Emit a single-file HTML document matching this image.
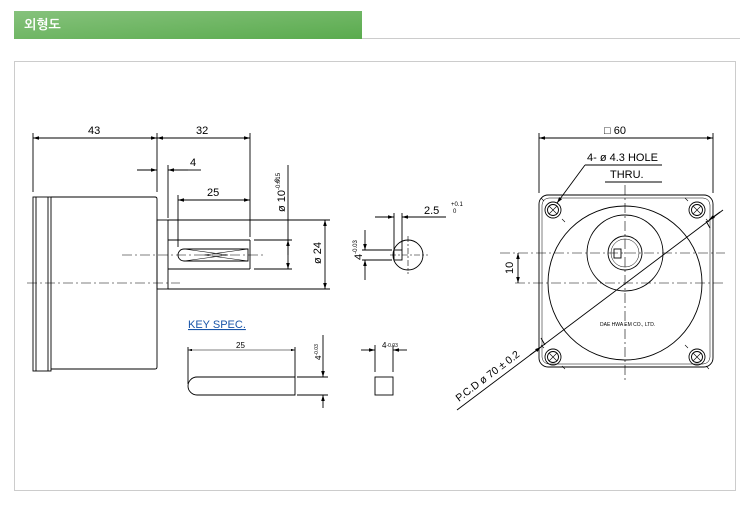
<!DOCTYPE html>
<html><head><meta charset="utf-8"><style>
body{margin:0;background:#fff;width:740px;height:506px;overflow:hidden;font-family:"Liberation Sans","NanumGothic",sans-serif}
</style></head><body>
<svg width="740" height="506" viewBox="0 0 740 506" xmlns="http://www.w3.org/2000/svg" font-family="Liberation Sans, NanumGothic, sans-serif">
<defs>
<linearGradient id="g" x1="0" y1="0" x2="1" y2="1"><stop offset="0" stop-color="#86c27c"/><stop offset="1" stop-color="#5aab4e"/></linearGradient>
<marker id="a" viewBox="0 0 10 6" refX="10" refY="3" markerWidth="8" markerHeight="4" orient="auto-start-reverse"><path d="M0,0L10,3L0,6z" fill="#000"/></marker>
<g id="h" stroke="#000" fill="none" stroke-width="0.9"><circle r="8"/><circle r="5.5"/><path d="M-4,-4L4,4M4,-4L-4,4M-12,-12L-9,-9M12,12L9,9" stroke-width="0.6"/></g>
</defs>
<rect x="14" y="11" width="348" height="28" fill="url(#g)"/>
<text x="24" y="29" fill="#fff" font-size="13" font-weight="bold">외형도</text>
<line x1="362" y1="38.5" x2="740" y2="38.5" stroke="#ccc"/>
<rect x="14.5" y="61.5" width="721" height="429" fill="none" stroke="#ccc"/>
<g stroke="#000" stroke-width="0.9" fill="none">
<rect x="33" y="197" width="18" height="174"/>
<line x1="36" y1="197" x2="36" y2="371"/><line x1="48" y1="197" x2="48" y2="371"/>
<path d="M51,197H155Q157,197 157,199V367Q157,369 155,369H51"/>
<rect x="157" y="220" width="11" height="69"/>
<line x1="168" y1="220" x2="330" y2="220"/><line x1="168" y1="289" x2="330" y2="289"/>
<line x1="168" y1="240" x2="250" y2="240"/><line x1="168" y1="269" x2="250" y2="269"/>
<line x1="250" y1="240" x2="250" y2="269"/>
<line x1="254" y1="240" x2="292" y2="240"/><line x1="254" y1="269" x2="292" y2="269"/>
<path d="M184,249H248V261H184A6,6 0 0 1 184,249Z"/>
<path d="M184,249L228,255L184,261M248,249L204,255L248,261" stroke-width="0.6"/>
<line x1="122" y1="255" x2="265" y2="255" stroke-dasharray="10,3,2,3" stroke-width="0.6"/>
<line x1="27" y1="283" x2="180" y2="283" stroke-dasharray="10,3,2,3" stroke-width="0.6"/>
<line x1="33" y1="133" x2="33" y2="192"/><line x1="157" y1="133" x2="157" y2="192"/><line x1="250" y1="133" x2="250" y2="237"/>
<line x1="33" y1="138" x2="157" y2="138" marker-start="url(#a)" marker-end="url(#a)"/>
<line x1="157" y1="138" x2="250" y2="138" marker-start="url(#a)" marker-end="url(#a)"/>
<line x1="137" y1="170" x2="157" y2="170" marker-end="url(#a)"/>
<line x1="168" y1="165" x2="168" y2="218"/><line x1="178" y1="195" x2="178" y2="247"/>
<line x1="188" y1="170" x2="168" y2="170" marker-end="url(#a)"/><line x1="188" y1="170" x2="201" y2="170"/>
<line x1="178" y1="200" x2="250" y2="200" marker-start="url(#a)" marker-end="url(#a)"/>
<line x1="288" y1="165" x2="288" y2="269" marker-end="url(#a)"/><line x1="288" y1="255" x2="288" y2="240" marker-end="url(#a)"/>
<line x1="325" y1="220" x2="325" y2="289" marker-start="url(#a)" marker-end="url(#a)"/>
<path d="M197,377H295V395H197A9,9 0 0 1 197,377Z"/>
<line x1="188" y1="347" x2="188" y2="384"/><line x1="295" y1="347" x2="295" y2="377"/>
<line x1="188" y1="350" x2="295" y2="350" marker-start="url(#a)" marker-end="url(#a)" stroke-width="0.6"/>
<line x1="297" y1="377" x2="328" y2="377"/><line x1="297" y1="395" x2="328" y2="395"/>
<line x1="323" y1="335" x2="323" y2="377" marker-end="url(#a)"/><line x1="323" y1="408" x2="323" y2="395" marker-end="url(#a)"/>
<circle cx="408" cy="255" r="15"/>
<rect x="394" y="250" width="8" height="10"/>
<line x1="408" y1="236" x2="408" y2="274" stroke-dasharray="6,2,2,2" stroke-width="0.6"/>
<line x1="390" y1="255" x2="428" y2="255" stroke-dasharray="6,2,2,2" stroke-width="0.6"/>
<line x1="394" y1="213" x2="394" y2="250"/><line x1="402" y1="213" x2="402" y2="250"/>
<line x1="375" y1="217" x2="394" y2="217" marker-end="url(#a)"/><line x1="446" y1="217" x2="402" y2="217" marker-end="url(#a)"/>
<line x1="362" y1="250" x2="392" y2="250"/><line x1="362" y1="260" x2="392" y2="260"/>
<line x1="365" y1="230" x2="365" y2="250" marker-end="url(#a)"/><line x1="365" y1="280" x2="365" y2="260" marker-end="url(#a)"/>
<rect x="375" y="377" width="18" height="18"/>
<line x1="375" y1="345" x2="375" y2="372"/><line x1="393" y1="345" x2="393" y2="372"/>
<line x1="361" y1="350" x2="375" y2="350" marker-end="url(#a)"/><line x1="407" y1="350" x2="393" y2="350" marker-end="url(#a)"/>
<rect x="539" y="195" width="174" height="172" rx="9"/>
<rect x="542" y="198" width="168" height="166" rx="7" stroke-width="0.5"/>
<circle cx="625" cy="283" r="77"/>
<circle cx="625" cy="253" r="38"/>
<circle cx="625" cy="253" r="17"/><circle cx="625" cy="253" r="14" stroke-width="0.5"/>
<rect x="614" y="249" width="7" height="9"/>
<line x1="625" y1="185" x2="625" y2="380" stroke-dasharray="10,3,2,3" stroke-width="0.6"/>
<line x1="500" y1="253" x2="725" y2="253" stroke-dasharray="10,3,2,3" stroke-width="0.6"/>
<line x1="515" y1="283" x2="725" y2="283" stroke-dasharray="10,3,2,3" stroke-width="0.6"/>
<line x1="539" y1="133" x2="539" y2="193"/><line x1="713" y1="133" x2="713" y2="193"/>
<line x1="539" y1="138" x2="713" y2="138" marker-start="url(#a)" marker-end="url(#a)"/>
<line x1="518" y1="253" x2="518" y2="283" marker-start="url(#a)" marker-end="url(#a)"/>
<line x1="457" y1="410" x2="723" y2="210"/>
<path d="M545,345L541,338M706,221L710,228" />
<line x1="530" y1="355" x2="541" y2="347" marker-end="url(#a)"/>
<line x1="720" y1="212" x2="709" y2="220" marker-end="url(#a)"/>
<line x1="585" y1="165" x2="662" y2="165"/><line x1="585" y1="165" x2="557" y2="203" marker-end="url(#a)"/>
<line x1="605" y1="182" x2="662" y2="182"/>
</g>
<use href="#h" x="553" y="210"/><use href="#h" x="697" y="210"/><use href="#h" x="553" y="357"/><use href="#h" x="697" y="357"/>
<g font-size="11" fill="#000">
<text x="88" y="134">43</text><text x="196" y="134">32</text>
<text x="190" y="166">4</text><text x="207" y="196">25</text>
<text transform="translate(285,212) rotate(-90)">ø 10<tspan font-size="6" dy="-5">-0.015</tspan></text>
<text x="279" y="184" font-size="6" transform="rotate(-90 279 184)">-0</text>
<text transform="translate(321,264) rotate(-90)">ø 24</text>
<text x="188" y="328" fill="#1a55a8" font-size="11" text-decoration="underline">KEY SPEC.</text>
<text x="236" y="348" font-size="8">25</text>
<text transform="translate(321,360) rotate(-90)" font-size="8">4<tspan font-size="5" dy="-3">-0.03</tspan></text>
<text x="424" y="214">2.5</text><text x="451" y="206" font-size="6">+0.1</text><text x="453" y="213" font-size="6">0</text>
<text transform="translate(362,260) rotate(-90)">4<tspan font-size="6" dy="-5">-0.03</tspan></text>
<text x="382" y="348" font-size="8">4<tspan font-size="5" dy="-1">-0.03</tspan></text>
<text x="604" y="134">□ 60</text>
<text x="587" y="161">4- ø 4.3 HOLE</text>
<text x="610" y="178">THRU.</text>
<text transform="translate(513,274) rotate(-90)">10</text>
<text x="600" y="326" font-size="5">DAE HWA EM CO., LTD.</text>
<text transform="translate(459,402) rotate(-37)" font-size="10.5">P.C.D ø 70 ± 0.2</text>
</g>
</svg>
</body></html>
